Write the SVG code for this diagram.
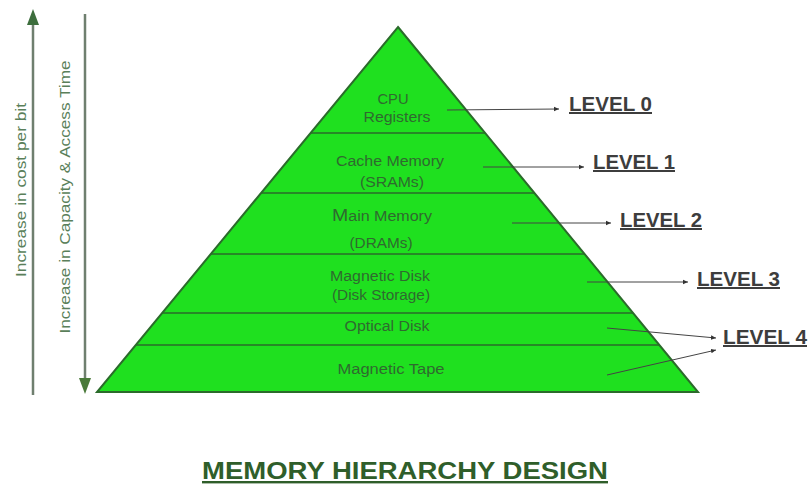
<svg xmlns="http://www.w3.org/2000/svg" width="809" height="484" viewBox="0 0 809 484">
<style>
.lbl{font-family:"Liberation Sans",Arial,sans-serif;font-size:14px;fill:#2f6a2f;text-anchor:middle}
.lvl{font-family:"Liberation Sans",Arial,sans-serif;font-size:20px;font-weight:bold;fill:#3d3d3d;text-decoration:underline}
.side{font-family:"Liberation Sans",Arial,sans-serif;font-size:14px;fill:#5a7f5a;text-anchor:middle}
.div{stroke:#2b6b2b;stroke-width:1.5}
.con{stroke:#444;stroke-width:1;fill:none}
</style>
<defs>
<marker id="ah" markerWidth="6" markerHeight="6" refX="5" refY="3" orient="auto" markerUnits="userSpaceOnUse">
<path d="M0,0.8 L5,3 L0,5.2 Z" fill="#333"/>
</marker>
</defs>
<rect width="809" height="484" fill="#fff"/>
<g id="side-arrows">
<line x1="33" y1="395" x2="33" y2="22" stroke="#6f7f6f" stroke-width="2.5"/>
<path d="M33,9 L39,25 L27,25 Z" fill="#3d6e3d"/>
<line x1="85" y1="14" x2="85" y2="380" stroke="#6f7f6f" stroke-width="2.5"/>
<path d="M85,394 L79,378 L91,378 Z" fill="#4a7a3a"/>
<text class="side" transform="translate(26,190) rotate(-90)" textLength="174" lengthAdjust="spacingAndGlyphs">Increase in cost per bit</text>
<text class="side" transform="translate(70,197) rotate(-90)" textLength="273" lengthAdjust="spacingAndGlyphs">Increase in Capacity &amp; Access Time</text>
</g>
<g id="pyramid">
<path d="M398,27 L698,392 L97,392 Z" fill="#1fe01f" stroke="#2b6b2b" stroke-width="2"/>
<line class="div" x1="311" y1="133" x2="485" y2="133"/>
<line class="div" x1="261" y1="193" x2="535" y2="193"/>
<line class="div" x1="211" y1="254" x2="585" y2="254"/>
<line class="div" x1="162" y1="313" x2="633" y2="313"/>
<line class="div" x1="136" y1="345" x2="659" y2="345"/>
</g>
<g id="level0">
<text class="lbl" x="393" y="104" textLength="31" lengthAdjust="spacingAndGlyphs">CPU</text>
<text class="lbl" x="397" y="122" textLength="67" lengthAdjust="spacingAndGlyphs">Registers</text>
</g>
<g id="level1">
<text class="lbl" x="390" y="166" textLength="108" lengthAdjust="spacingAndGlyphs">Cache Memory</text>
<text class="lbl" x="392" y="187" textLength="64" lengthAdjust="spacingAndGlyphs">(SRAMs)</text>
</g>
<g id="level2">
<text class="lbl" x="382" y="221" textLength="100" lengthAdjust="spacingAndGlyphs"><tspan font-size="17">M</tspan>ain Memory</text>
<text class="lbl" x="381" y="248" textLength="63" lengthAdjust="spacingAndGlyphs">(DRAMs)</text>
</g>
<g id="level3">
<text class="lbl" x="380" y="281" textLength="100" lengthAdjust="spacingAndGlyphs">Magnetic Disk</text>
<text class="lbl" x="381" y="300" textLength="98" lengthAdjust="spacingAndGlyphs">(Disk Storage)</text>
</g>
<g id="level4a">
<text class="lbl" x="387" y="331" textLength="85" lengthAdjust="spacingAndGlyphs">Optical Disk</text>
</g>
<g id="level4b">
<text class="lbl" x="391" y="374" textLength="107" lengthAdjust="spacingAndGlyphs">Magnetic Tape</text>
</g>
<g id="connectors">
<line class="con" x1="447" y1="110" x2="559" y2="109" marker-end="url(#ah)"/>
<line class="con" x1="483" y1="167" x2="584" y2="167" marker-end="url(#ah)"/>
<line class="con" x1="512" y1="223" x2="611" y2="223" marker-end="url(#ah)"/>
<line class="con" x1="587" y1="282" x2="688" y2="282" marker-end="url(#ah)"/>
<line class="con" x1="607" y1="328" x2="716" y2="338" marker-end="url(#ah)"/>
<line class="con" x1="607" y1="375" x2="716" y2="350" marker-end="url(#ah)"/>
</g>
<g id="labels">
<text class="lvl" x="569" y="111" textLength="83" lengthAdjust="spacingAndGlyphs">LEVEL 0</text>
<text class="lvl" x="593" y="169" textLength="82" lengthAdjust="spacingAndGlyphs">LEVEL 1</text>
<text class="lvl" x="620" y="227" textLength="82" lengthAdjust="spacingAndGlyphs">LEVEL 2</text>
<text class="lvl" x="697" y="286" textLength="83" lengthAdjust="spacingAndGlyphs">LEVEL 3</text>
<text class="lvl" x="723" y="344" textLength="84" lengthAdjust="spacingAndGlyphs">LEVEL 4</text>
</g>
<g id="title">
<text x="202" y="479" font-family="'Liberation Sans',Arial,sans-serif" font-size="24" font-weight="bold" fill="#2f5e2a" text-decoration="underline" textLength="406" lengthAdjust="spacingAndGlyphs">MEMORY HIERARCHY DESIGN</text>
</g>
</svg>
